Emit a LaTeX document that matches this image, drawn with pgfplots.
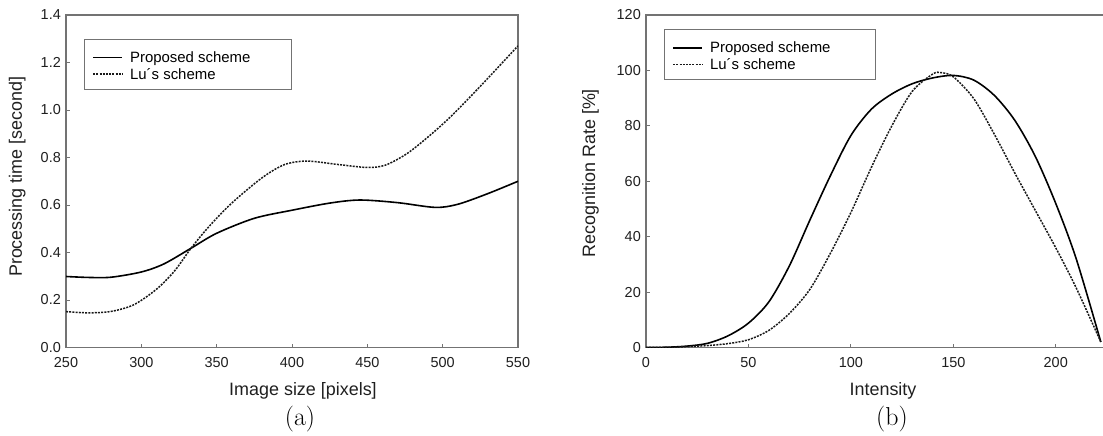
\documentclass[border=0pt]{standalone}
\usepackage{pgfplots}
\pgfplotsset{compat=1.18}
\usepackage{fontspec}
\newfontfamily\arial{Liberation Sans}
\definecolor{axgray}{gray}{0.45}
\definecolor{txt}{gray}{0.12}

\pgfplotsset{
  panel/.style={
    scale only axis, height=332.5bp, ymin=0,
    axis line style={draw=axgray, line width=1.1bp},
    tick pos=left, tick align=inside, major tick length=4bp,
    every tick/.style={draw=axgray, line width=1bp},
    tick label style={font=\arial\fontsize{14.5}{14.5}\selectfont, text=txt,
      /pgf/number format/assume math mode=true},
    xticklabel style={anchor=north, inner sep=0pt, yshift=-9.5bp},
    yticklabel style={anchor=east, inner sep=0pt, xshift=-5bp},
    label style={font=\arial\fontsize{18}{18}\selectfont, text=txt},
    legend style={anchor=north west, draw=axgray, line width=1bp, fill=white,
      inner xsep=8bp, inner ysep=8.5bp, font=\arial\fontsize{15}{15}\selectfont,
      row sep=0pt, column sep=7bp,
      nodes={inner sep=0pt, text height=15bp, text depth=1.5bp}},
    legend cell align=left,
    legend image code/.code={\draw[#1] (0bp,-1.75bp) -- (29bp,-1.75bp);},
  },
  prop/.style={black, line width=1.6bp, smooth},
  lu/.style={black!90, line width=1.5bp, smooth, dash pattern=on 2bp off 1.2bp},
}

\begin{document}
\begin{tikzpicture}
\useasboundingbox (0bp,-436bp) rectangle (1103bp,0bp);

% (a) processing time
\begin{axis}[panel,
  at={(66bp,-347.5bp)}, anchor=south west, width=452bp,
  xmin=250, xmax=550, ymax=1.4,
  xtick={250,300,350,400,450,500,550},
  ytick={0,0.2,0.4,0.6,0.8,1.0,1.2,1.4},
  yticklabel style={/pgf/number format/fixed, /pgf/number format/fixed zerofill,
    /pgf/number format/precision=1},
  xlabel={Image size [pixels]},
  ylabel={Processing time [second]},
  xlabel style={at={([xshift=11bp,yshift=-47.5bp]axis description cs:0.5,0)}, anchor=base},
  ylabel style={at={([xshift=-44bp,yshift=4.5bp]axis description cs:0,0.5)}, anchor=base},
  legend style={at={(axis description cs:0.0398,0.9293)}},
]
\addplot[prop] coordinates {
 (250,0.299) (265,0.295) (280,0.296) (300,0.318) (315,0.352) (333,0.418)
 (350,0.481) (375,0.544) (400,0.578) (425,0.608) (445,0.621) (470,0.610)
 (495,0.590) (510,0.603) (530,0.648) (550,0.700)};
\addlegendentry{\makebox[153bp][l]{Proposed scheme}}
\addplot[lu] coordinates {
 (250,0.151) (265,0.146) (280,0.152) (295,0.180) (310,0.245) (322,0.322)
 (333,0.418) (345,0.510) (360,0.608) (380,0.714) (395,0.770) (410,0.785)
 (430,0.771) (450,0.758) (462,0.768) (476,0.815) (490,0.885) (505,0.970)
 (525,1.100) (550,1.270)};
\addlegendentry{Lu´s scheme}
\end{axis}

% (b) recognition rate
\begin{axis}[panel,
  at={(646bp,-347.5bp)}, anchor=south west, width=458.9bp,
  xmin=0, xmax=224, ymax=120,
  xtick={0,50,100,150,200},
  ytick={0,20,40,60,80,100,120},
  xlabel={Intensity},
  ylabel={Recognition Rate [\%]},
  xlabel style={at={([xshift=237bp,yshift=-47.5bp]axis description cs:0,0)}, anchor=base},
  ylabel style={at={([xshift=-51bp,yshift=8bp]axis description cs:0,0.5)}, anchor=base},
  legend style={at={(axis description cs:0.0392,0.958)}},
]
\addplot[prop] coordinates {
 (0,0) (10,0.1) (20,0.5) (30,1.5) (40,4.2) (50,8.8) (60,16.5) (70,29.5)
 (80,46) (90,62) (100,76.5) (110,86) (120,91.5) (130,95.2) (140,97.3)
 (150,98.2) (160,96.5) (170,91) (180,82) (190,69) (200,52) (210,32) (222,2)};
\addlegendentry{\makebox[157bp][l]{Proposed scheme}}
\addplot[lu] coordinates {
 (0,0) (10,0.05) (20,0.3) (30,0.7) (40,1.4) (50,2.8) (60,6.2) (70,12.3)
 (80,21) (90,34) (100,48.7) (110,65) (120,80) (130,92.5) (140,98.7)
 (144,99.2) (150,97.7) (160,89.8) (170,77) (180,63) (190,49.5)
 (200,36) (210,21.5) (222,2)};
\addlegendentry{Lu´s scheme}
\end{axis}

\node[font=\fontsize{26}{26}\selectfont, anchor=base] at (300bp,-425.5bp) {(a)};
\node[font=\fontsize{26}{26}\selectfont, anchor=base] at (892bp,-425.5bp) {(b)};
\end{tikzpicture}
\end{document}
